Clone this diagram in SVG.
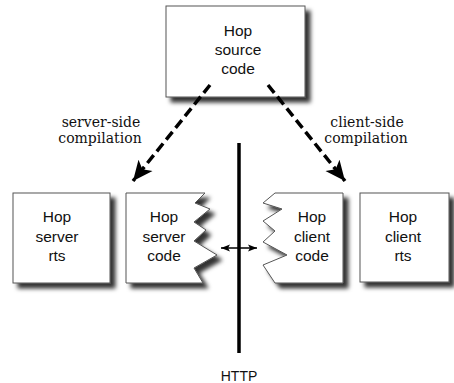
<svg xmlns="http://www.w3.org/2000/svg" width="454" height="383" viewBox="0 0 454 383">
<defs>
<filter id="sh" x="-10%" y="-10%" width="130%" height="130%">
<feDropShadow dx="5" dy="5" stdDeviation="2" flood-color="#000" flood-opacity="0.8"/>
</filter>
<marker id="big" markerWidth="22" markerHeight="20" refX="20" refY="10" orient="auto" markerUnits="userSpaceOnUse">
<path d="M0,1 L20,10 L0,19 L5,10 Z" fill="#000"/>
</marker>
<marker id="small" markerWidth="10" markerHeight="8" refX="9" refY="4" orient="auto" markerUnits="userSpaceOnUse">
<path d="M0,0.5 L9,4 L0,7.5 L2,4 Z" fill="#000"/>
</marker>
<marker id="smallS" markerWidth="10" markerHeight="8" refX="1" refY="4" orient="auto" markerUnits="userSpaceOnUse">
<path d="M10,0.5 L1,4 L10,7.5 L8,4 Z" fill="#000"/>
</marker>
</defs>
<style>
.box{fill:#fff;stroke:#555;stroke-width:1;filter:url(#sh)}
.t{font-family:'Liberation Sans',Arial,sans-serif;font-size:15.5px;fill:#111;text-anchor:middle}
.lbl{font-size:14px;fill:#111;text-anchor:middle}
.dash{stroke:#000;stroke-width:3.5;stroke-dasharray:10,5;fill:none}
</style>
<g id="source">
<rect class="box" x="166" y="6" width="139" height="91"/>
<text class="t" x="238" y="36">Hop</text>
<text class="t" x="238" y="55">source</text>
<text class="t" x="238" y="74">code</text>
</g>
<g id="server-rts">
<rect class="box" x="13" y="193" width="97" height="90"/>
<text class="t" x="57" y="222">Hop</text>
<text class="t" x="57" y="242">server</text>
<text class="t" x="57" y="261">rts</text>
</g>
<g id="server-code">
<path class="box" d="M126,193 L205,193 L195,203 L210,209 L194,222 L206,230 L194,241 L217,255 L194,268 L203,283 L126,283 Z"/>
<text class="t" x="164" y="222">Hop</text>
<text class="t" x="164" y="242">server</text>
<text class="t" x="164" y="261">code</text>
</g>
<g id="client-code">
<path class="box" d="M343,193 L275,193 L263,203 L282,209 L263,221 L275,231 L263,242 L287,255 L263,265 L275,283 L343,283 Z"/>
<text class="t" x="312" y="222">Hop</text>
<text class="t" x="312" y="242">client</text>
<text class="t" x="312" y="261">code</text>
</g>
<g id="client-rts">
<rect class="box" x="360" y="193" width="89" height="89"/>
<text class="t" x="403" y="222">Hop</text>
<text class="t" x="403" y="242">client</text>
<text class="t" x="403" y="261">rts</text>
</g>
<g id="http">
<line x1="239" y1="143" x2="239" y2="353" stroke="#000" stroke-width="3.5"/>
<text class="t" x="239" y="381" style="font-size:14px">HTTP</text>
</g>
<g id="connectors">
<line class="dash" x1="210" y1="85" x2="133" y2="181" marker-end="url(#big)"/>
<line class="dash" x1="268" y1="85" x2="345" y2="181" marker-end="url(#big)"/>
<line x1="221" y1="248" x2="257" y2="248" stroke="#000" stroke-width="1.6" marker-start="url(#smallS)" marker-end="url(#small)"/>
<g font-family="DejaVu Serif, Liberation Serif, serif">
<text class="lbl" x="101" y="127">server-side</text>
<text class="lbl" x="100" y="143">compilation</text>
<text class="lbl" x="367" y="127">client-side</text>
<text class="lbl" x="366" y="143">compilation</text>
</g>
</g>
</svg>
